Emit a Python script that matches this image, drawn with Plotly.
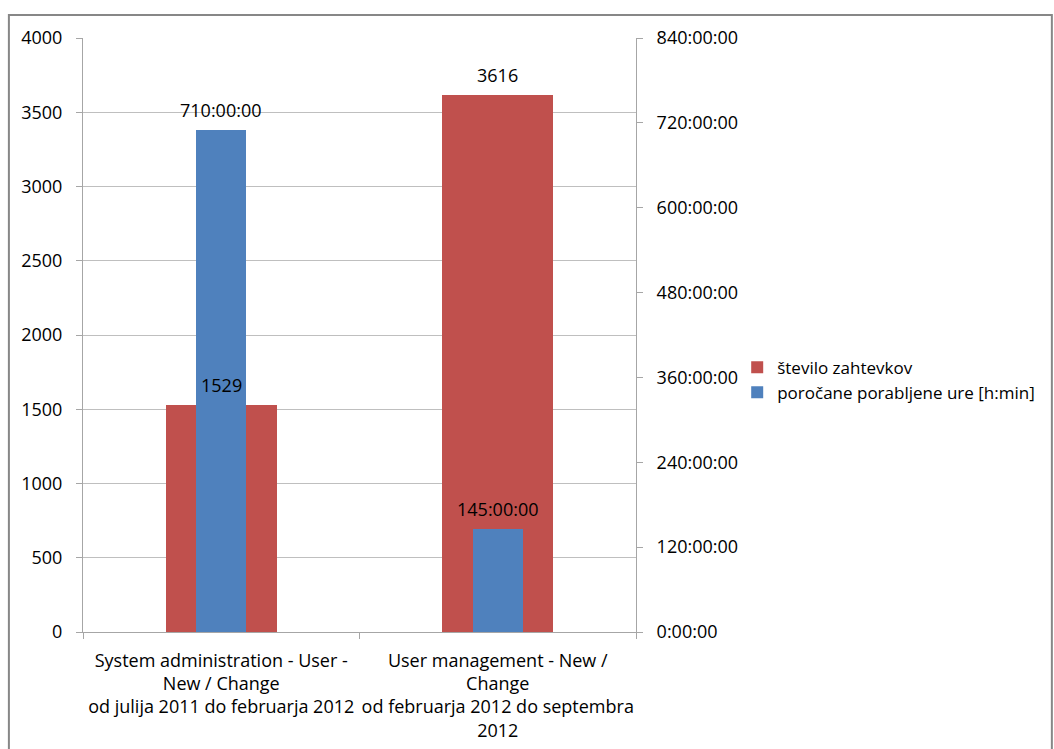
import plotly.graph_objects as go

categories = [
    "System administration - User -<br>New / Change<br>od julija 2011 do februarja 2012",
    "User management - New /<br>Change<br>od februarja 2012 do septembra<br>2012",
]
cat_keys = ["c1", "c2"]
requests = [1529, 3616]
hours = [710, 145]
hours_labels = ["710:00:00", "145:00:00"]
left_ticks = [0, 500, 1000, 1500, 2000, 2500, 3000, 3500, 4000]
right_ticks = [0, 120, 240, 360, 480, 600, 720, 840]
right_tick_labels = ["0:00:00", "120:00:00", "240:00:00", "360:00:00",
                     "480:00:00", "600:00:00", "720:00:00", "840:00:00"]

RED = "#C0504D"
BLUE = "#4F81BD"
FONT = "Open Sans"
FS = 18

fig = go.Figure()
fig.add_trace(go.Bar(
    x=cat_keys, y=requests, name="število zahtevkov",
    marker=dict(color=RED, line=dict(width=0)), width=0.4, yaxis="y",
))
fig.add_trace(go.Bar(
    x=cat_keys, y=hours, name="poročane porabljene ure [h:min]",
    marker=dict(color=BLUE, line=dict(width=0)), width=0.18, yaxis="y2",
))

for k, v in zip(cat_keys, requests):
    fig.add_annotation(x=k, y=v, xref="x", yref="y", text=str(v),
                       showarrow=False, yanchor="bottom", yshift=6,
                       font=dict(family=FONT, size=FS, color="#000000"))
for k, v, t in zip(cat_keys, hours, hours_labels):
    fig.add_annotation(x=k, y=v, xref="x", yref="y2", text=t,
                       showarrow=False, yanchor="bottom", yshift=6,
                       font=dict(family=FONT, size=FS, color="#000000"))

fig.add_shape(type="rect", xref="paper", yref="paper",
              x0=-0.134, x1=1.752, y0=-0.3, y1=1.0387,
              line=dict(color="#878787", width=2), layer="below")

fig.update_layout(
    width=1054, height=749,
    margin=dict(l=83, r=418, t=38, b=117, autoexpand=False),
    paper_bgcolor="white", plot_bgcolor="white",
    barmode="overlay", bargap=0,
    font=dict(family=FONT, size=FS, color="#000000"),
    showlegend=True,
    legend=dict(x=1.183, y=0.424, xanchor="left", yanchor="middle",
                font=dict(family=FONT, size=17), itemwidth=30,
                tracegroupgap=2, bgcolor="rgba(0,0,0,0)"),
    xaxis=dict(
        tickvals=cat_keys, ticktext=categories, tickson="boundaries",
        ticks="outside", ticklen=6, tickcolor="#a6a6a6", tickangle=0,
        automargin=False,
        showline=True, linecolor="#a6a6a6", linewidth=1,
        showgrid=False, tickfont=dict(family=FONT, size=FS),
        ticklabelstandoff=12,
    ),
    yaxis=dict(
        range=[0, 4000], tickvals=left_ticks, ticks="outside", ticklen=6,
        tickcolor="#a6a6a6", showline=True, linecolor="#a6a6a6",
        automargin=False,
        showgrid=True, gridcolor="#bfbfbf", gridwidth=1, zeroline=False,
        tickfont=dict(family=FONT, size=FS), ticklabelstandoff=10,
    ),
    yaxis2=dict(
        range=[0, 840], overlaying="y", side="right",
        tickvals=right_ticks, ticktext=right_tick_labels,
        ticks="outside", ticklen=6, tickcolor="#a6a6a6",
        automargin=False,
        showline=True, linecolor="#a6a6a6", showgrid=False, zeroline=False,
        tickfont=dict(family=FONT, size=FS), ticklabelstandoff=10,
    ),
)

fig.write_html("out.html")
